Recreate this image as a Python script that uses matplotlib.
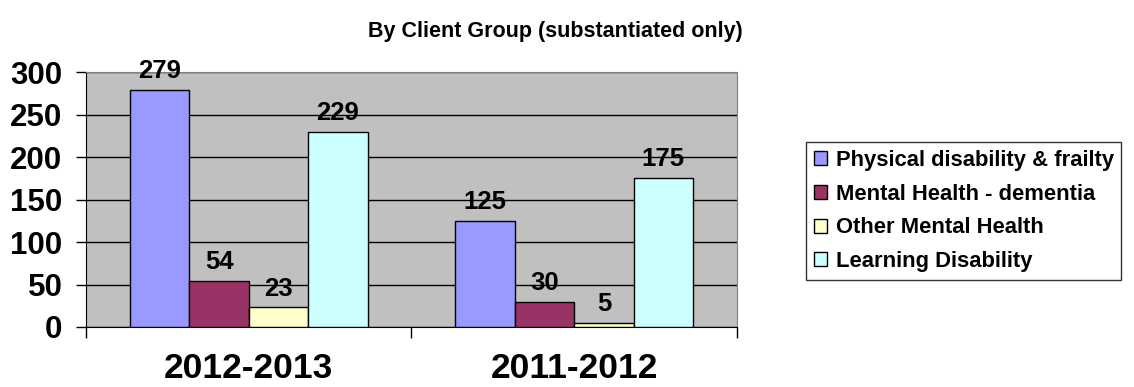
import numpy as np
from matplotlib import pyplot as plt

plt.rcParams['font.family'] = ['Liberation Sans', 'DejaVu Sans']
plt.rcParams['font.weight'] = 'bold'

years = ["2012-2013", "2011-2012"]
groups = ["Physical disability & frailty", "Mental Health - dementia",
          "Other Mental Health", "Learning Disability"]
physical = [279, 125]
dementia = [54, 30]
other_mh = [23, 5]
learning = [229, 175]
series = [physical, dementia, other_mh, learning]
colors = ["#9999FF", "#993366", "#FFFFCC", "#CCFFFF"]

fig = plt.figure(figsize=(11.34, 3.87), dpi=100)
ax = fig.add_axes([86 / 1134, 60 / 387, 651 / 1134, 255 / 387])
ax.set_facecolor("#C0C0C0")

w = 0.1825
x = np.arange(len(years)) + 0.5
for i, vals in enumerate(series):
    pos = x + (i - 1.5) * w
    bars = ax.bar(pos, vals, width=w, color=colors[i], edgecolor="black",
                  linewidth=1, label=groups[i], zorder=3)
    for b, v in zip(bars, vals):
        ax.annotate(str(v), (b.get_x() + w / 2, v), xytext=(0, 5),
                    textcoords="offset points", ha="center", va="bottom",
                    fontsize=18.5, fontweight="bold", zorder=4)

ax.set_xlim(0, 2)
ax.set_ylim(0, 300)
ax.set_yticks(range(0, 301, 50))
ax.yaxis.grid(True, color="black", linewidth=1)
ax.set_axisbelow(True)
ax.tick_params(axis="y", length=7, width=1, labelsize=22.5, pad=10)

ax.set_xticks(x)
ax.set_xticklabels(years, fontsize=25.5, fontweight="bold")
ax.tick_params(axis="x", which="major", length=0, pad=18)
ax.set_xticks([0, 1, 2], minor=True)
ax.tick_params(axis="x", which="minor", length=8, width=1)

for s in ["top", "right"]:
    ax.spines[s].set_color("#808080")
for s in ["left", "bottom"]:
    ax.spines[s].set_color("black")

fig.suptitle("By Client Group (substantiated only)", x=0.49, y=0.945,
             fontsize=15.5, fontweight="bold")

leg = ax.legend(loc="center left", bbox_to_anchor=(806 / 1134, 0.455),
                bbox_transform=fig.transFigure, fontsize=15.8, frameon=True,
                fancybox=False, edgecolor="black", handlelength=0.6,
                handleheight=0.6, handletextpad=0.4, borderpad=0.35,
                labelspacing=0.58, borderaxespad=0)
leg.get_frame().set_linewidth(1)

fig.savefig("out.png", dpi=100)
